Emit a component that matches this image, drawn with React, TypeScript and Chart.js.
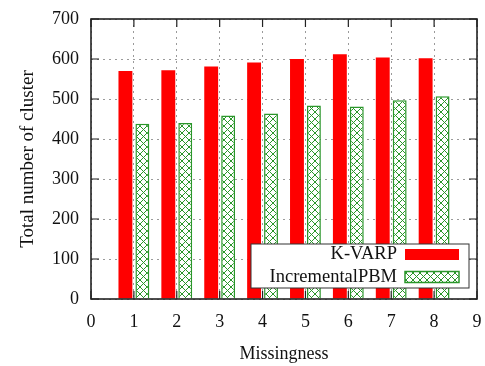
import React, { useEffect, useRef } from "react";
import { Chart, registerables } from "chart.js";

Chart.register(...registerables);

// ---- data ----
const missingness = [1, 2, 3, 4, 5, 6, 7, 8];
const kvarp = [570, 572, 581, 591, 600, 612, 604, 602];
const incrementalPBM = [438, 440, 459, 464, 484, 481, 497, 507];
const seriesNames = ["K-VARP", "IncrementalPBM"];
const xTitle = "Missingness";
const yTitle = "Total number of cluster";
const xRange = [0, 9];
const yRange = [0, 700];

const FONT = "'Liberation Serif', 'Times New Roman', serif";
const RED = "#ff0000";
const GREEN = "#2a962a";

function makeHatch(ctx: CanvasRenderingContext2D) {
  const s = 7;
  const c = document.createElement("canvas");
  c.width = s;
  c.height = s;
  const g = c.getContext("2d")!;
  g.fillStyle = "#ffffff";
  g.fillRect(0, 0, s, s);
  g.strokeStyle = GREEN;
  g.lineWidth = 1;
  g.beginPath();
  g.moveTo(-1, -1);
  g.lineTo(s + 1, s + 1);
  g.moveTo(s + 1, -1);
  g.lineTo(-1, s + 1);
  g.stroke();
  return ctx.createPattern(c, "repeat")!;
}

const frameTicksPlugin = {
  id: "frameTicks",
  beforeDatasetsDraw(chart: any) {
    const { ctx, chartArea: a, scales } = chart;
    const L = 8;
    ctx.save();
    ctx.strokeStyle = "#222";
    ctx.lineWidth = 1.2;
    ctx.beginPath();
    scales.y.ticks.forEach((t: any) => {
      const y = scales.y.getPixelForValue(t.value);
      ctx.moveTo(a.left, y);
      ctx.lineTo(a.left + L, y);
      ctx.moveTo(a.right, y);
      ctx.lineTo(a.right - L, y);
    });
    scales.x.ticks.forEach((t: any) => {
      const x = scales.x.getPixelForValue(t.value);
      ctx.moveTo(x, a.top);
      ctx.lineTo(x, a.top + L);
      ctx.moveTo(x, a.bottom);
      ctx.lineTo(x, a.bottom - L);
    });
    ctx.stroke();
    ctx.restore();
  },
  afterDatasetsDraw(chart: any) {
    const { ctx, chartArea: a } = chart;
    ctx.save();
    ctx.strokeStyle = "#222";
    ctx.lineWidth = 1.6;
    ctx.strokeRect(a.left, a.top, a.right - a.left, a.bottom - a.top);
    ctx.restore();
  },
};

const boxLegendPlugin = {
  id: "boxLegend",
  afterDraw(chart: any) {
    const { ctx, chartArea: a } = chart;
    const w = 218;
    const h = 44;
    const right = a.right - 8;
    const bottom = a.bottom - 11;
    const left = right - w;
    const top = bottom - h;
    ctx.save();
    ctx.fillStyle = "#ffffff";
    ctx.fillRect(left, top, w, h);
    ctx.strokeStyle = "#333";
    ctx.lineWidth = 1;
    ctx.strokeRect(left, top, w, h);
    ctx.font = `18.5px ${FONT}`;
    ctx.textAlign = "right";
    ctx.textBaseline = "middle";
    chart.data.datasets.forEach((ds: any, i: number) => {
      const cy = top + 10.5 + i * 22.5;
      ctx.fillStyle = "#111";
      ctx.fillText(ds.label, right - 72, cy);
      const sx = right - 64;
      const sw = 54;
      const sh = 11;
      ctx.fillStyle = ds.backgroundColor;
      ctx.fillRect(sx, cy - sh / 2, sw, sh);
      if (ds.borderWidth) {
        ctx.strokeStyle = ds.borderColor;
        ctx.lineWidth = ds.borderWidth;
        ctx.strokeRect(sx, cy - sh / 2, sw, sh);
      }
    });
    ctx.restore();
  },
};

export default function App() {
  const ref = useRef<HTMLCanvasElement>(null);

  useEffect(() => {
    const canvas = ref.current!;
    const ctx = canvas.getContext("2d")!;
    const hatch = makeHatch(ctx);
    const chart = new Chart(canvas, {
      type: "bar",
      data: {
        datasets: [
          {
            label: seriesNames[0],
            data: missingness.map((x, i) => ({ x, y: kvarp[i] })),
            backgroundColor: RED,
            borderWidth: 0,
          },
          {
            label: seriesNames[1],
            data: missingness.map((x, i) => ({ x, y: incrementalPBM[i] })),
            backgroundColor: hatch as any,
            borderColor: GREEN,
            borderWidth: 1.5,
          },
        ],
      },
      options: {
        responsive: false,
        animation: false,
        devicePixelRatio: 1,
        layout: { padding: { left: 0, right: 8, top: 19, bottom: 0 } },
        datasets: {
          bar: { categoryPercentage: 0.79, barPercentage: 0.82 },
        } as any,
        plugins: {
          legend: { display: false },
          tooltip: { enabled: false },
        },
        scales: {
          x: {
            type: "linear",
            min: xRange[0],
            max: xRange[1],
            offset: false,
            afterFit: (s: any) => {
              s.height = 67;
              s.paddingLeft = 0;
              s.paddingRight = 0;
            },
            ticks: {
              stepSize: 1,
              padding: 12,
              color: "#111",
              font: { family: FONT, size: 18 },
            },
            grid: {
              color: "#9a9a9a",
              lineWidth: 1,
              drawTicks: false,
              offset: false,
            },
            border: { display: false, dash: [2, 4] },
            title: {
              display: true,
              text: xTitle,
              color: "#111",
              font: { family: FONT, size: 18 },
              padding: { top: 0, bottom: 1 },
            },
          },
          y: {
            min: yRange[0],
            max: yRange[1],
            afterFit: (s: any) => {
              s.width = 91;
              s.paddingTop = 0;
              s.paddingBottom = 0;
            },
            ticks: {
              stepSize: 100,
              padding: 12,
              color: "#111",
              font: { family: FONT, size: 18 },
            },
            grid: {
              color: "#9a9a9a",
              lineWidth: 1,
              drawTicks: false,
            },
            border: { display: false, dash: [2, 4] },
            title: {
              display: true,
              text: yTitle,
              color: "#111",
              font: { family: FONT, size: 19 },
              padding: { top: 17, bottom: 0 },
            },
          },
        },
      },
      plugins: [frameTicksPlugin, boxLegendPlugin],
    });
    return () => chart.destroy();
  }, []);

  return (
    <div style={{ position: "fixed", left: 0, top: 0, width: 485, height: 366, background: "#fff" }}>
      <canvas ref={ref} width={485} height={366} style={{ display: "block" }} />
    </div>
  );
}
